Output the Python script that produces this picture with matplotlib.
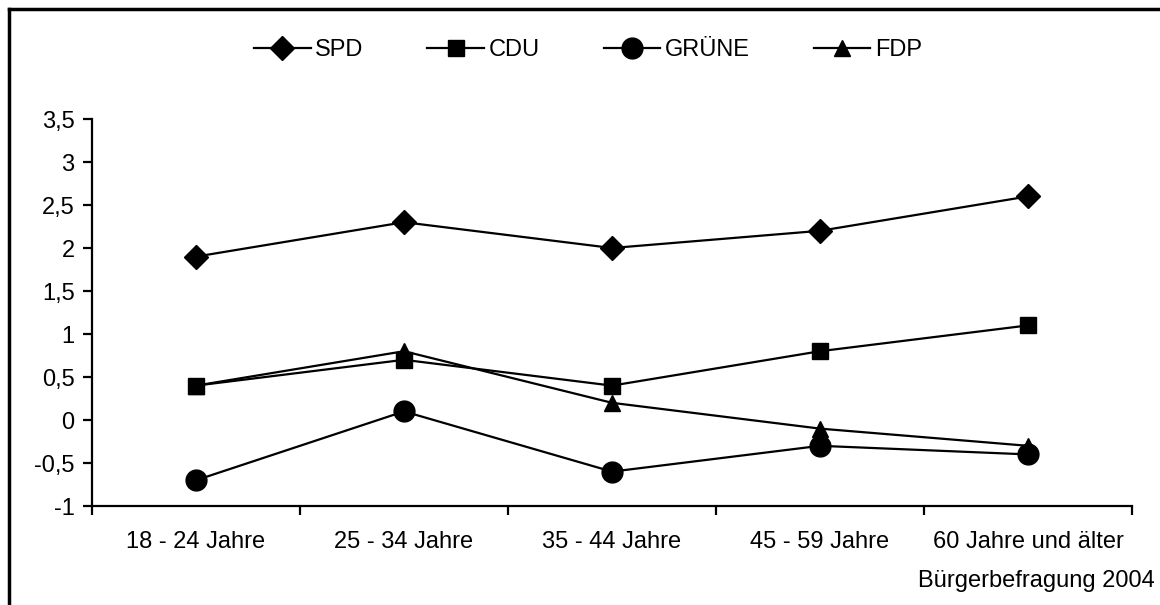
import numpy as np
import matplotlib
matplotlib.use("Agg")
import matplotlib.pyplot as plt
from matplotlib.lines import Line2D

plt.rcParams['font.family'] = ['Liberation Sans', 'DejaVu Sans']

# Daten (Bürgerbefragung 2004)
categories = ['18 - 24 Jahre', '25 - 34 Jahre', '35 - 44 Jahre', '45 - 59 Jahre', '60 Jahre und älter']
spd = [1.9, 2.3, 2.0, 2.2, 2.6]
cdu = [0.4, 0.7, 0.4, 0.8, 1.1]
gruene = [-0.7, 0.1, -0.6, -0.3, -0.4]
fdp = [0.4, 0.8, 0.2, -0.1, -0.3]
yticks = [-1, -0.5, 0, 0.5, 1, 1.5, 2, 2.5, 3, 3.5]

FS = 17

fig = plt.figure(figsize=(11.6, 6.05), dpi=100)
ax = fig.add_axes([0.0793, 0.1636, 0.8966, 0.6397])

x = np.arange(len(categories))
series = [('SPD', spd, 'D', 12), ('CDU', cdu, 's', 12),
          ('GRÜNE', gruene, 'o', 15), ('FDP', fdp, '^', 12)]
for name, vals, mk, ms in series:
    ax.plot(x, vals, color='black', lw=1.6, marker=mk, markersize=ms, label=name)

ax.set_xlim(-0.5, len(categories) - 0.5)
ax.set_ylim(-1, 3.5)
ax.set_yticks(yticks)
ax.set_yticklabels([('%g' % v).replace('.', ',') for v in yticks])

# x-Ticks zwischen den Kategorien, Beschriftung in der Mitte
ax.set_xticks(np.arange(len(categories) + 1) - 0.5)
ax.set_xticklabels([])
ax.set_xticks(x, minor=True)
ax.set_xticklabels(categories, minor=True)
ax.tick_params(axis='x', which='minor', length=0, pad=18, labelsize=FS)
ax.tick_params(axis='x', which='major', length=6.5, width=1.6, direction='out')
ax.tick_params(axis='y', length=6.5, width=1.6, direction='out', labelsize=FS, pad=6)

for s in ['top', 'right']:
    ax.spines[s].set_visible(False)
for s in ['left', 'bottom']:
    ax.spines[s].set_linewidth(1.6)

fig.legend(loc='center', bbox_to_anchor=(0.5 + 8 / 1160, 1 - 50 / 605), ncol=4, frameon=False,
           fontsize=FS, handlelength=2.4, handletextpad=0.2, columnspacing=2.7)

fig.text(1155 / 1160, 1 - 581 / 605, 'Bürgerbefragung 2004', ha='right', va='center', fontsize=FS)

# Rahmen (nur links und oben sichtbar)
fig.add_artist(Line2D([8.5 / 1160, 8.5 / 1160], [0, 1 - 8.5 / 605], color='black', lw=2.5,
                      transform=fig.transFigure))
fig.add_artist(Line2D([8.5 / 1160, 1], [1 - 8.5 / 605, 1 - 8.5 / 605], color='black', lw=2.5,
                      transform=fig.transFigure))

fig.savefig('out.png', dpi=100)
